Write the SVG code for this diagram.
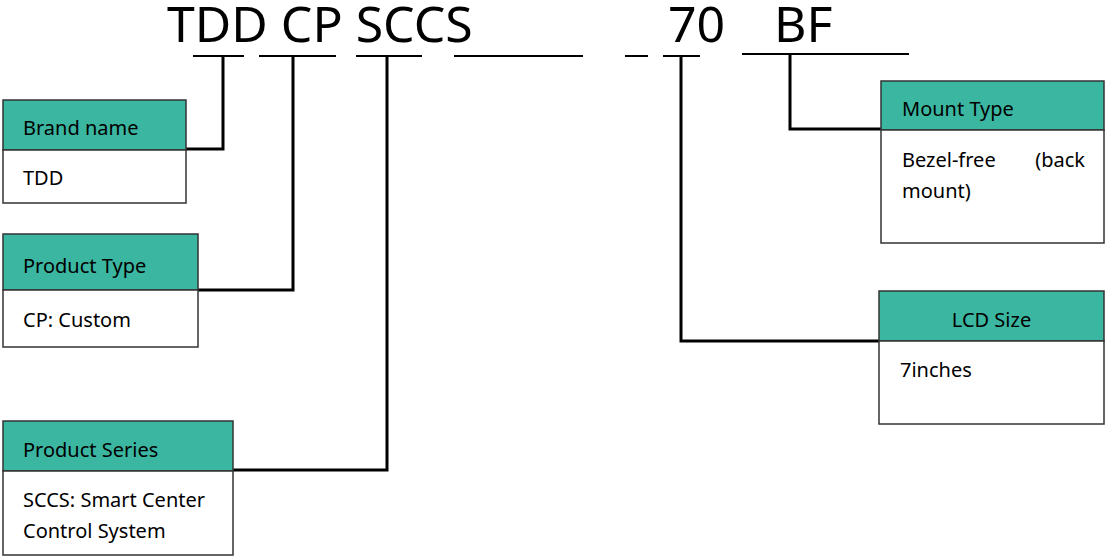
<svg xmlns="http://www.w3.org/2000/svg" width="1105" height="556" viewBox="0 0 1105 556">
<style>
text{font-family:"Noto Sans","Open Sans","Liberation Sans",sans-serif;fill:#000}
.title{font-size:50px}
.lbl{font-size:20px}
.hd{fill:#3bb7a1;stroke:#333;stroke-width:1.5}
.bd{fill:#fff;stroke:#333;stroke-width:1.5}
.ul{stroke:#000;stroke-width:2;fill:none}
.cn{stroke:#000;stroke-width:3;fill:none}
</style>
<rect width="1105" height="556" fill="#fff"/>
<g id="title">
<text class="title" x="167" y="42">TDD CP SCCS</text>
<text class="title" x="668" y="42">70</text>
<text class="title" x="774" y="42">BF</text>
</g>
<g id="connectors">
<line class="ul" x1="193" y1="56" x2="244" y2="56"/>
<line class="ul" x1="259" y1="56" x2="336" y2="56"/>
<line class="ul" x1="356" y1="56" x2="422" y2="56"/>
<line class="ul" x1="454" y1="56" x2="583" y2="56"/>
<line class="ul" x1="625" y1="56" x2="648" y2="56"/>
<line class="ul" x1="663" y1="56" x2="700" y2="56"/>
<line class="ul" x1="742" y1="54" x2="909" y2="54"/>
<polyline class="cn" points="223,56 223,149 186,149"/>
<polyline class="cn" points="293,56 293,290 198,290"/>
<polyline class="cn" points="387,56 387,470 233,470"/>
<polyline class="cn" points="681,56 681,341 879,341"/>
<polyline class="cn" points="790,54 790,129 881,129"/>
</g>
<g id="brand">
<rect class="hd" x="3" y="100" width="183" height="50"/>
<rect class="bd" x="3" y="150" width="183" height="53"/>
<text class="lbl" x="23" y="135">Brand name</text>
<text class="lbl" x="23" y="185">TDD</text>
</g>
<g id="ptype">
<rect class="hd" x="3" y="234" width="195" height="56"/>
<rect class="bd" x="3" y="290" width="195" height="57"/>
<text class="lbl" x="23" y="273">Product Type</text>
<text class="lbl" x="23" y="327">CP: Custom</text>
</g>
<g id="pseries">
<rect class="hd" x="3" y="421" width="230" height="50"/>
<rect class="bd" x="3" y="471" width="230" height="84"/>
<text class="lbl" x="23" y="457">Product Series</text>
<text class="lbl" x="23" y="507">SCCS: Smart Center</text>
<text class="lbl" x="23" y="538">Control System</text>
</g>
<g id="mount">
<rect class="hd" x="881" y="81" width="223" height="49"/>
<rect class="bd" x="881" y="130" width="223" height="113"/>
<text class="lbl" x="902" y="116">Mount Type</text>
<text class="lbl" x="902" y="167">Bezel-free</text>
<text class="lbl" x="1085" y="167" text-anchor="end">(back</text>
<text class="lbl" x="902" y="198">mount)</text>
</g>
<g id="lcd">
<rect class="hd" x="879" y="291" width="225" height="50"/>
<rect class="bd" x="879" y="341" width="225" height="83"/>
<text class="lbl" x="991.5" y="327" text-anchor="middle">LCD Size</text>
<text class="lbl" x="900" y="377">7inches</text>
</g>
</svg>
